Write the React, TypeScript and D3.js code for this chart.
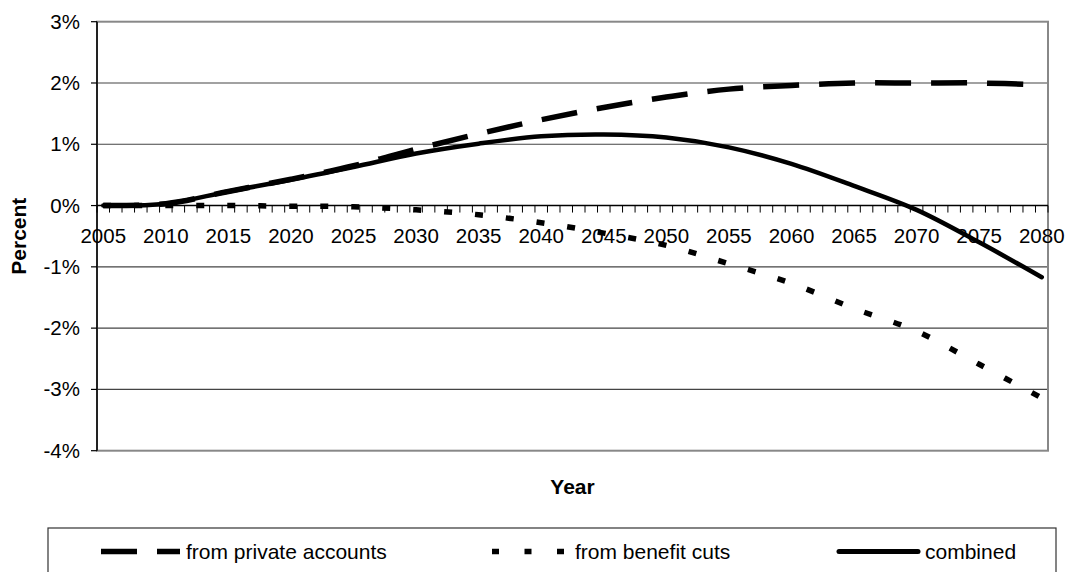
import React from "react";
import * as d3 from "d3";

// chart data (percent)
const sampleYears = [2005, 2010, 2015, 2020, 2025, 2030, 2035, 2040, 2045, 2050, 2055, 2060, 2065, 2070, 2075, 2080];
const privateAccounts = [0, 0.03, 0.23, 0.43, 0.65, 0.92, 1.17, 1.4, 1.6, 1.77, 1.9, 1.96, 2.0, 2.0, 2.0, 1.97];
const benefitCuts = [0, 0, 0, -0.01, -0.02, -0.07, -0.15, -0.28, -0.45, -0.65, -0.95, -1.27, -1.68, -2.05, -2.59, -3.14];
const combined = [0, 0.03, 0.23, 0.42, 0.63, 0.85, 1.01, 1.13, 1.16, 1.11, 0.95, 0.68, 0.32, -0.07, -0.6, -1.17];

const yTicks = [3, 2, 1, 0, -1, -2, -3, -4];
const xLabelYears = [2005, 2010, 2015, 2020, 2025, 2030, 2035, 2040, 2045, 2050, 2055, 2060, 2065, 2070, 2075, 2080];
const legendLabels = ["from private accounts", "from benefit cuts", "combined"];

const W = 1067;
const H = 572;
const font = "'Liberation Sans', Arial, sans-serif";

export default function App() {
  const left = 97, right = 1048, top = 21.7, bottom = 450.7;

  const categories = d3.range(2005, 2081);
  const x = d3.scaleBand<number>().domain(categories).range([left, right]).padding(0);
  const cx = (yr: number) => (x(yr) as number) + x.bandwidth() / 2;
  const y = d3.scaleLinear().domain([-4, 3]).range([bottom, top]);

  const line = (vals: number[]) =>
    d3.line<number>()
      .x((_, i) => cx(sampleYears[i]))
      .y((d) => y(d))
      .curve(d3.curveCatmullRom.alpha(0.5))(vals) as string;

  const tickXs = categories.map((c) => x(c) as number).concat([right]);
  const y0 = y(0);

  return (
    <svg width={W} height={H} style={{ position: "absolute", left: 0, top: 0, background: "#fff" }} fontFamily={font}>
      {/* gridlines */}
      {yTicks.filter((t) => t !== 3 && t !== -4 && t !== 0).map((t) => (
        <line key={t} x1={left} x2={right} y1={y(t)} y2={y(t)} stroke="#444" strokeWidth={1.2} />
      ))}
      {/* plot border */}
      <rect x={left} y={top} width={right - left} height={bottom - top} fill="none" stroke="#888" strokeWidth={2} />
      {/* y axis */}
      <line x1={left} x2={left} y1={top} y2={bottom} stroke="#000" strokeWidth={1.5} />
      {yTicks.map((t) => (
        <g key={t}>
          <line x1={left - 6} x2={left} y1={y(t)} y2={y(t)} stroke="#000" strokeWidth={1.2} />
          <text x={80} y={y(t) + 7} textAnchor="end" fontSize={20.5} fill="#000">{t}%</text>
        </g>
      ))}
      {/* x axis on 0 */}
      <line x1={left} x2={right} y1={y0} y2={y0} stroke="#000" strokeWidth={1.5} />
      {tickXs.map((tx, i) => (
        <line key={i} x1={tx} x2={tx} y1={y0} y2={y0 + 7} stroke="#000" strokeWidth={1} />
      ))}
      {xLabelYears.map((yr) => (
        <text key={yr} x={cx(yr)} y={243} textAnchor="middle" fontSize={20.5} fill="#000">{yr}</text>
      ))}
      {/* axis titles */}
      <text transform={`translate(25.5, ${(top + bottom) / 2}) rotate(-90)`} textAnchor="middle" fontSize={21} fontWeight="bold">Percent</text>
      <text x={(left + right) / 2} y={494} textAnchor="middle" fontSize={21} fontWeight="bold">Year</text>

      {/* series */}
      <path d={line(privateAccounts)} fill="none" stroke="#000" strokeWidth={5.5} strokeDasharray="36 20" />
      <path d={line(benefitCuts)} fill="none" stroke="#000" strokeWidth={5.5} strokeDasharray="8 23" />
      <path d={line(combined)} fill="none" stroke="#000" strokeWidth={4.5} strokeLinecap="round" />

      {/* legend */}
      <rect x={48} y={528} width={1008} height={60} fill="#fff" stroke="#333" strokeWidth={1.2} />
      <line x1={101} x2={180} y1={551.5} y2={551.5} stroke="#000" strokeWidth={5.5} strokeDasharray="36 20" />
      <text x={186} y={559} fontSize={21}>{legendLabels[0]}</text>
      <line x1={492} x2={565} y1={551.5} y2={551.5} stroke="#000" strokeWidth={5.5} strokeDasharray="7 25.5" />
      <text x={575} y={559} fontSize={21}>{legendLabels[1]}</text>
      <line x1={839} x2={918} y1={551.5} y2={551.5} stroke="#000" strokeWidth={5} strokeLinecap="round" />
      <text x={925} y={559} fontSize={21}>{legendLabels[2]}</text>
    </svg>
  );
}
